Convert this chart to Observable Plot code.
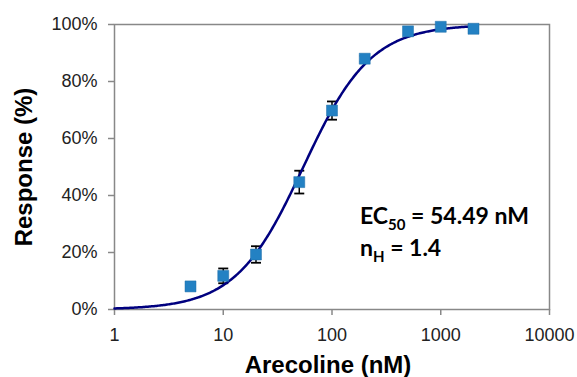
<!DOCTYPE html>
<html>
<head>
<meta charset="utf-8">
<script src="https://cdn.jsdelivr.net/npm/d3@7"></script>
<script src="https://cdn.jsdelivr.net/npm/@observablehq/plot@0.6"></script>
<style>
  html, body { margin: 0; padding: 0; background: #fff; }
  #chart { position: relative; width: 577px; height: 377px; }
  .note { position: absolute; left: 360px; font-family: Lato, "Open Sans", sans-serif; font-weight: bold; font-size: 23px; color: #000; white-space: nowrap; line-height: 1; }
  .note sub { font-size: 15px; vertical-align: -6px; line-height: 0; }
</style>
</head>
<body>
<div id="chart"></div>
<script>
// Data
const concentrations = [5, 10, 20, 50, 100, 200, 500, 1000, 2000]; // nM
const responses = [8.1, 11.8, 19.3, 44.7, 69.8, 88.0, 97.6, 99.2, 98.5]; // %
const errors = [0, 2.6, 2.9, 4.0, 3.2, 1.0, 0, 0, 0]; // %
const xTicks = [1, 10, 100, 1000, 10000];
const yTicks = [0, 20, 40, 60, 80, 100];
const ec50 = 54.49;
const hill = 1.4;
const curveRange = [1, 2000];

const points = concentrations.map((c, i) => ({c, r: responses[i], e: errors[i]}));
const bars = points.filter(d => d.e > 0);
// Fitted Hill curve from the stated EC50 and nH
const curve = d3.range(0, 301).map(i => {
  const c = Math.pow(10, Math.log10(curveRange[0]) + i / 300 * (Math.log10(curveRange[1]) - Math.log10(curveRange[0])));
  return {c, r: 100 / (1 + Math.pow(ec50 / c, hill))};
});

const capSymbol = {
  draw(ctx, size) {
    const r = 5;
    ctx.moveTo(-r, 0);
    ctx.lineTo(r, 0);
  }
};

const chart = Plot.plot({
  width: 577,
  height: 377,
  marginLeft: 114,
  marginRight: 28,
  marginTop: 24,
  marginBottom: 68,
  style: {fontFamily: "'Liberation Sans', Arial, sans-serif", fontSize: "18px", color: "#222", background: "#fff"},
  x: {type: "log", domain: [1, 10000]},
  y: {domain: [0, 100]},
  marks: [
    Plot.frame({stroke: "#888", strokeWidth: 1.5}),
    Plot.axisX({ticks: xTicks, tickFormat: d3.format("d"), tickSize: 6, tickPadding: 13, stroke: "#888", strokeWidth: 1.5, fill: "#222", fontSize: 18,
      label: null}),
    Plot.axisY({ticks: yTicks, tickFormat: d => d + "%", tickSize: 6, tickPadding: 11, stroke: "#888", strokeWidth: 1.5, fill: "#222", fontSize: 18,
      label: null}),
    Plot.text(["Response (%)"], {frameAnchor: "left", textAnchor: "middle", dx: -90, rotate: -90, fontSize: 24, fontWeight: "bold", fill: "#000"}),
    Plot.text(["Arecoline (nM)"], {frameAnchor: "bottom", textAnchor: "middle", lineAnchor: "bottom", dx: -4, dy: 63, fontSize: 24, fontWeight: "bold", fill: "#000"}),
    Plot.ruleX(bars, {x: "c", y1: d => d.r - d.e, y2: d => d.r + d.e, stroke: "#000", strokeWidth: 1.5}),
    Plot.dot(bars, {x: "c", y: d => d.r - d.e, symbol: capSymbol, stroke: "#000", strokeWidth: 1.8, fill: "none"}),
    Plot.dot(bars, {x: "c", y: d => d.r + d.e, symbol: capSymbol, stroke: "#000", strokeWidth: 1.8, fill: "none"}),
    Plot.line(curve, {x: "c", y: "r", stroke: "#00007f", strokeWidth: 2.5, curve: "linear"}),
    Plot.dot(points, {x: "c", y: "r", symbol: "square", r: 6.2, fill: "#2381c3", stroke: "#1e6fa8", strokeWidth: 0.5})
  ]
});
document.getElementById("chart").appendChild(chart);

const n1 = document.createElement("div");
n1.className = "note"; n1.style.top = "204px";
n1.innerHTML = "EC<sub>50</sub> = 54.49 nM";
const n2 = document.createElement("div");
n2.className = "note"; n2.style.top = "236px";
n2.innerHTML = "n<sub>H</sub> = 1.4";
document.getElementById("chart").appendChild(n1);
document.getElementById("chart").appendChild(n2);
</script>
</body>
</html>
